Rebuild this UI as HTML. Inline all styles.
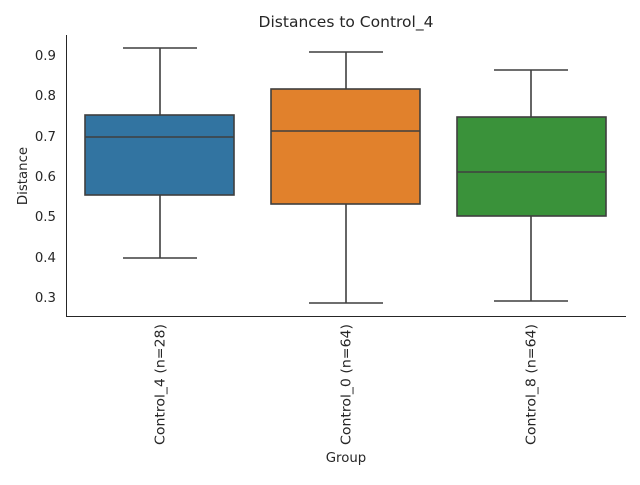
<!DOCTYPE html>
<html><head><style>body{margin:0;background:#fff}</style></head><body>
<svg width="640" height="480" xmlns="http://www.w3.org/2000/svg" font-family="DejaVu Sans, sans-serif">
<rect width="640" height="480" fill="#fff"/>
<text x="346" y="27" font-size="15.5" text-anchor="middle" fill="#262626">Distances to Control_4</text>
<g font-size="13.3" fill="#262626" text-anchor="end">
<text x="56" y="60">0.9</text><text x="56" y="100">0.8</text><text x="56" y="141">0.7</text>
<text x="56" y="181">0.6</text><text x="56" y="221">0.5</text><text x="56" y="262">0.4</text><text x="56" y="302">0.3</text>
</g>
<text transform="translate(27,176) rotate(-90)" font-size="13.3" text-anchor="middle" fill="#262626">Distance</text>
<text x="346" y="462" font-size="13.3" text-anchor="middle" fill="#262626">Group</text>
<g font-size="13.6" fill="#262626" text-anchor="end">
<text transform="translate(164.5,324) rotate(-90)" textLength="121" lengthAdjust="spacingAndGlyphs">Control_4 (n=28)</text>
<text transform="translate(350.5,324) rotate(-90)" textLength="121" lengthAdjust="spacingAndGlyphs">Control_0 (n=64)</text>
<text transform="translate(535.5,324) rotate(-90)" textLength="121" lengthAdjust="spacingAndGlyphs">Control_8 (n=64)</text>
</g>
<g stroke="#3f3f3f" stroke-width="1.6" fill="none">
<line x1="160" y1="48" x2="160" y2="115"/><line x1="160" y1="195" x2="160" y2="258"/>
<line x1="123" y1="48" x2="197" y2="48"/><line x1="123" y1="258" x2="197" y2="258"/>
<rect x="85" y="115" width="149" height="80" fill="#3274a1"/>
<line x1="85" y1="137" x2="234" y2="137"/>
<line x1="346" y1="52" x2="346" y2="89"/><line x1="346" y1="204" x2="346" y2="303"/>
<line x1="309" y1="52" x2="383" y2="52"/><line x1="309" y1="303" x2="383" y2="303"/>
<rect x="271" y="89" width="149" height="115" fill="#e1812c"/>
<line x1="271" y1="131" x2="420" y2="131"/>
<line x1="531" y1="70" x2="531" y2="117"/><line x1="531" y1="216" x2="531" y2="301"/>
<line x1="494" y1="70" x2="568" y2="70"/><line x1="494" y1="301" x2="568" y2="301"/>
<rect x="457" y="117" width="149" height="99" fill="#3a923a"/>
<line x1="457" y1="172" x2="606" y2="172"/>
</g>
<g stroke="#262626" stroke-width="1">
<line x1="66.5" y1="35" x2="66.5" y2="316"/><line x1="66" y1="316.5" x2="626" y2="316.5"/>
</g>
</svg>
</body></html>
